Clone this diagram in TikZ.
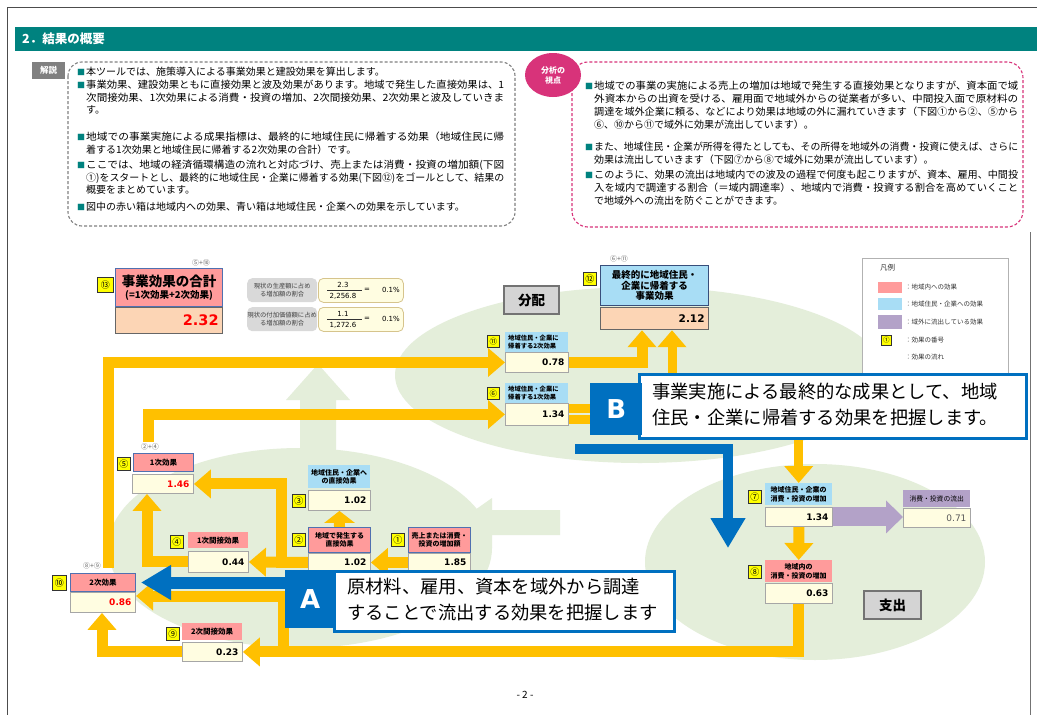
\documentclass[tikz,border=0pt]{standalone}
\usepackage{fontspec}
\setmainfont{Noto Sans CJK JP}
\newfontfamily\numfont{DejaVu Sans}
\usetikzlibrary{arrows.meta,calc,shapes.geometric}
\definecolor{teal1}{HTML}{00827F}
\definecolor{pinkbox}{HTML}{FF9B9B}
\definecolor{bluebox}{HTML}{A8DDF5}
\definecolor{purplebox}{HTML}{B3A2C8}
\definecolor{valfill}{HTML}{FFFDE1}
\definecolor{peach}{HTML}{FCD5B5}
\definecolor{yel}{HTML}{FFFF00}
\definecolor{orng}{HTML}{FFC000}
\definecolor{palegreen}{HTML}{E4EEDA}
\definecolor{bluec}{HTML}{0070C0}
\definecolor{mag}{HTML}{D8337A}
\definecolor{numred}{HTML}{FF0000}
\definecolor{bordergray}{HTML}{A6A6A6}
\definecolor{bordblue}{HTML}{5070B0}
\definecolor{tanb}{HTML}{D6C48C}
\definecolor{graylab}{HTML}{808080}
\pgfdeclarelayer{bg}
\pgfdeclarelayer{arr}
\pgfsetlayers{bg,arr,main}
\newcommand\bul{{\color{teal1}\fontsize{8}{8}\selectfont ■}\hspace{1pt}}
\newcommand\ind{\hspace*{9pt}}
\newcommand\jl[1]{\resizebox{418pt}{\height}{#1}}
\newcommand\jr[1]{\resizebox{424pt}{\height}{#1}}
\begin{document}
\begin{tikzpicture}[x=1pt,y=-1pt,
  box/.style={anchor=north west, inner sep=0pt, align=center},
  lab/.style 2 args={box, minimum width=#1, minimum height=#2, font=\bfseries\fontsize{7.5}{8.5}\selectfont},
  valb/.style 2 args={box, fill=valfill, draw=bordergray, line width=0.9pt, inner xsep=4pt, text width=#1, minimum height=#2, align=right, font=\numfont\bfseries\fontsize{9}{10}\selectfont},
  numb/.style={box, fill=yel, draw=black!80, line width=0.6pt, minimum width=13pt, minimum height=13pt, font=\fontsize{9}{9}\selectfont},
  para/.style={anchor=north west, inner sep=0pt, align=left, font=\fontsize{10}{12.5}\selectfont},
  parar/.style={anchor=north west, inner sep=0pt, align=left, font=\fontsize{10}{13}\selectfont},
  sumf/.style={inner sep=0pt, font=\fontsize{7}{8}\selectfont, text=black!60},
  flow/.style={draw=orng, line width=11pt, line join=miter, -{Triangle[width=28pt,length=17pt]}},
  pflow/.style={draw=purplebox, line width=19pt, -{Triangle[width=32pt,length=17pt]}},
  bflow/.style={draw=bluec, line width=10pt, -{Triangle[width=33pt,length=30pt]}},
  legt/.style={anchor=west, inner sep=0pt, font=\fontsize{6.5}{7}\selectfont, text=black!80},
  calltext/.style={anchor=west, inner sep=0pt, align=left, font=\fontsize{18.3}{26}\selectfont}
]
\useasboundingbox (0,0) rectangle (1037,715);
\begin{pgfonlayer}{bg}
\fill[white] (0,0) rectangle (1037,715);
\fill[palegreen] (640,375) ellipse [x radius=245pt, y radius=88pt];
\fill[palegreen] (300,548) ellipse [x radius=192pt, y radius=100pt];
\fill[palegreen] (815,562) ellipse [x radius=170pt, y radius=98pt];
\fill[palegreen] (458,522) -- (492,498) -- (492,510) -- (560,510) -- (560,535) -- (492,535) -- (492,548) -- cycle;
\fill[palegreen] (300,470) -- (300,400) -- (286,400) -- (318,364) -- (350,400) -- (336,400) -- (336,470) -- cycle;
\end{pgfonlayer}
\draw[black!70, line width=1pt] (7,715) -- (7,7) -- (1037,7);
\draw[black!55, line width=0.8pt] (1030,232) -- (1030,715);

% header
\fill[teal1] (15,27) rectangle (1037,51);
\node[anchor=west, text=white, font=\bfseries\fontsize{12.5}{14}\selectfont, inner sep=0] (title) at (22,39) {2．結果の概要};

% left explanation box
\draw[graylab, line width=1.1pt, dash pattern=on 3pt off 2pt, rounded corners=14pt] (68,62) rectangle (515,226);
\node[box, fill=graylab, text=white, minimum width=33pt, minimum height=17pt, font=\bfseries\fontsize{8.5}{9}\selectfont] (kaisetsu) at (32,62) {解説};
\node[para] (lp1) at (77,67) {\bul 本ツールでは、施策導入による事業効果と建設効果を算出します。};
\node[para] (lp2) at (77,80) {\bul\jl{事業効果、建設効果ともに直接効果と波及効果があります。地域で発生した直接効果は、1}\\\ind\jl{次間接効果、1次効果による消費・投資の増加、2次間接効果、2次効果と波及していきま}\\\ind す。};
\node[para] (lp3) at (77,132) {\bul\jl{地域での事業実施による成果指標は、最終的に地域住民に帰着する効果（地域住民に帰}\\\ind 着する1次効果と地域住民に帰着する2次効果の合計）です。};
\node[para] (lp4) at (77,160) {\bul\jl{ここでは、地域の経済循環構造の流れと対応づけ、売上または消費・投資の増加額(下図}\\\ind\jl{①)をスタートとし、最終的に地域住民・企業に帰着する効果(下図⑫)をゴールとして、結果の}\\\ind 概要をまとめています。};
\node[para] (lp5) at (77,202) {\bul 図中の赤い箱は地域内への効果、青い箱は地域住民・企業への効果を示しています。};

% right analysis box
\draw[mag, line width=1.1pt, dash pattern=on 3pt off 2pt, rounded corners=16pt] (572,62) rectangle (1023,227);
\node[ellipse, fill=mag, minimum width=56pt, minimum height=44pt, inner sep=0pt, text=white, align=center, font=\bfseries\fontsize{8}{10}\selectfont] (bunseki) at (553,75) {分析の\\視点};
\node[parar] (rp1) at (585,81) {\bul\jr{地域での事業の実施による売上の増加は地域で発生する直接効果となりますが、資本面で域}\\\ind\jr{外資本からの出資を受ける、雇用面で地域外からの従業者が多い、中間投入面で原材料の}\\\ind\jr{調達を域外企業に頼る、などにより効果は地域の外に漏れていきます（下図①から②、⑤から}\\\ind ⑥、⑩から⑪で域外に効果が流出しています）。};
\node[parar] (rp2) at (585,142) {\bul\jr{また、地域住民・企業が所得を得たとしても、その所得を地域外の消費・投資に使えば、さらに}\\\ind 効果は流出していきます（下図⑦から⑧で域外に効果が流出しています）。};
\node[parar] (rp3) at (585,170) {\bul\jr{このように、効果の流出は地域内での波及の過程で何度も起こりますが、資本、雇用、中間投}\\\ind\jr{入を域内で調達する割合（＝域内調達率）、地域内で消費・投資する割合を高めていくこと}\\\ind で地域外への流出を防ぐことができます。};

% node 13
\node[numb, minimum width=16pt, minimum height=15pt] (n13num) at (97,277) {⑬};
\node[box, fill=pinkbox, draw=bordblue, line width=1.2pt, minimum width=107pt, minimum height=38pt, font=\bfseries] (n13l) at (115,268) {{\fontsize{13.5}{15}\selectfont 事業効果の合計}\\{\fontsize{9.5}{11}\selectfont (=1次効果+2次効果)}};
\node[valb={99pt}{26pt}, fill=peach, draw=black!60, line width=1.2pt, font=\numfont\bfseries\fontsize{14.5}{16}\selectfont, text=numred] (n13v) at (115,307) {2.32};
\node[sumf] (n13f) at (201,263) {⑤+⑩};

% ratio boxes
\node[box, fill=black!15, rounded corners=5pt, minimum width=70pt, minimum height=24pt, font=\fontsize{6.3}{8}\selectfont, text=black!75] (r1l) at (247,278) {現状の生産額に占め\\る増加額の割合};
\node[box, fill=valfill, draw=tanb, line width=0.8pt, rounded corners=5pt, minimum width=85pt, minimum height=24pt] (r1v) at (318,278) {};
\node[inner sep=0pt, font=\numfont\fontsize{7}{8}\selectfont] (r1a) at (343,284.5) {2.3};
\node[inner sep=0pt, font=\numfont\fontsize{7}{8}\selectfont] (r1b) at (343,296) {2,256.8};
\draw[black!80, line width=0.5pt] (327,290) -- (362,290);
\node[inner sep=0pt, font=\numfont\fontsize{7}{8}\selectfont] (r1c) at (367,290) {=};
\node[anchor=east, inner sep=0pt, font=\numfont\fontsize{7}{8}\selectfont] (r1d) at (400,290) {0.1\%};
\node[box, fill=black!15, rounded corners=5pt, minimum width=70pt, minimum height=24pt, font=\fontsize{6.3}{8}\selectfont, text=black!75] (r2l) at (247,307) {現状の付加価値額に占め\\る増加額の割合};
\node[box, fill=valfill, draw=tanb, line width=0.8pt, rounded corners=5pt, minimum width=85pt, minimum height=24pt] (r2v) at (318,307) {};
\node[inner sep=0pt, font=\numfont\fontsize{7}{8}\selectfont] (r2a) at (343,313.5) {1.1};
\node[inner sep=0pt, font=\numfont\fontsize{7}{8}\selectfont] (r2b) at (343,325) {1,272.6};
\draw[black!80, line width=0.5pt] (327,319) -- (362,319);
\node[inner sep=0pt, font=\numfont\fontsize{7}{8}\selectfont] (r2c) at (367,319) {=};
\node[anchor=east, inner sep=0pt, font=\numfont\fontsize{7}{8}\selectfont] (r2d) at (400,319) {0.1\%};

% node 12
\node[numb] (n12num) at (583,272) {⑫};
\node[box, fill=bluebox, draw=bordblue!70!black, line width=1.2pt, minimum width=108pt, minimum height=40pt, font=\bfseries\fontsize{9.5}{10.5}\selectfont] (n12l) at (600,265) {最終的に地域住民・\\企業に帰着する\\事業効果};
\node[valb={100pt}{22pt}, fill=peach, draw=black!60, line width=1.2pt, font=\numfont\bfseries\fontsize{10.5}{12}\selectfont] (n12v) at (600,307) {2.12};
\node[sumf] (n12f) at (619,259) {⑥+⑪};

% distribution / expenditure labels
\node[box, fill=black!17, draw=black!55, line width=2pt, minimum width=55pt, minimum height=28pt, font=\bfseries\fontsize{13.5}{14}\selectfont] (haibun) at (503,285) {分配};
\node[box, fill=black!17, draw=black!55, line width=2pt, minimum width=57pt, minimum height=28pt, font=\bfseries\fontsize{13.5}{14}\selectfont] (shishutsu) at (863,590) {支出};

% node 11 and 6
\node[numb, minimum width=12pt, minimum height=12pt, font=\fontsize{7.5}{8}\selectfont] (n11num) at (487,335) {⑪};
\node[box, fill=bluebox, text width=57pt, inner xsep=3pt, minimum height=20pt, align=left, font=\bfseries\fontsize{6.3}{7.6}\selectfont] (n11l) at (505,332) {地域住民・企業に\\帰着する2次効果};
\node[valb={55pt}{20pt}] (n11v) at (505,352) {0.78};
\node[numb, minimum width=12pt, minimum height=12pt, font=\fontsize{7.5}{8}\selectfont] (n6num) at (487,387) {⑥};
\node[box, fill=bluebox, text width=57pt, inner xsep=3pt, minimum height=20pt, align=left, font=\bfseries\fontsize{6.3}{7.6}\selectfont] (n6l) at (505,383) {地域住民・企業に\\帰着する1次効果};
\node[valb={55pt}{22pt}] (n6v) at (505,403) {1.34};

% node 5
\node[numb] (n5num) at (117,457) {⑤};
\node[lab={60pt}{18pt}, fill=pinkbox, draw=bordblue, line width=1pt] (n5l) at (133,453) {1次効果};
\node[valb={53pt}{19pt}, text=numred] (n5v) at (132,474) {1.46};
\node[sumf] (n5f) at (150,447) {②+④};

% node 3
\node[lab={62pt}{23pt}, fill=bluebox, font=\bfseries\fontsize{7}{8.5}\selectfont] (n3l) at (308,465) {地域住民・企業へ\\の直接効果};
\node[valb={54pt}{20pt}] (n3v) at (308,490) {1.02};
\node[numb] (n3num) at (292,494) {③};

% node 2
\node[numb] (n2num) at (292,533) {②};
\node[lab={62pt}{25pt}, fill=pinkbox, draw=bordblue, line width=1pt, font=\bfseries\fontsize{7}{8.5}\selectfont] (n2l) at (308,527) {地域で発生する\\直接効果};
\node[valb={54pt}{18pt}] (n2v) at (308,553) {1.02};

% node 1
\node[numb] (n1num) at (391,533) {①};
\node[lab={62pt}{25pt}, fill=pinkbox, draw=bordblue, line width=1pt, font=\bfseries\fontsize{7}{8.5}\selectfont] (n1l) at (408,527) {売上または消費・\\投資の増加額};
\node[valb={54pt}{18pt}] (n1v) at (408,553) {1.85};

% node 4
\node[numb] (n4num) at (170,535) {④};
\node[lab={60pt}{16pt}, fill=pinkbox] (n4l) at (188,532) {1次間接効果};
\node[valb={52pt}{21pt}] (n4v) at (188,551) {0.44};

% node 7
\node[numb] (n7num) at (748,490) {⑦};
\node[lab={67pt}{22pt}, fill=bluebox, font=\bfseries\fontsize{7}{8.5}\selectfont] (n7l) at (765,483) {地域住民・企業の\\消費・投資の増加};
\node[valb={59pt}{19pt}] (n7v) at (765,507) {1.34};

% outflow
\node[lab={67pt}{17pt}, fill=purplebox, font=\fontsize{6.8}{8}\selectfont] (outl) at (903,490) {消費・投資の流出};
\node[valb={59pt}{19pt}, font=\numfont\fontsize{9}{10}\selectfont, text=black!65] (outv) at (903,508) {0.71};

% node 8
\node[numb] (n8num) at (748,565) {⑧};
\node[lab={67pt}{22pt}, fill=pinkbox, font=\bfseries\fontsize{7}{8.5}\selectfont] (n8l) at (765,560) {地域内の\\消費・投資の増加};
\node[valb={59pt}{20pt}] (n8v) at (765,583) {0.63};

% node 10
\node[numb, minimum width=14pt, minimum height=15pt] (n10num) at (52,575) {⑩};
\node[lab={65pt}{18pt}, fill=pinkbox, draw=bordblue, line width=1pt] (n10l) at (70,573) {2次効果};
\node[valb={57pt}{20pt}, text=numred] (n10v) at (70,592) {0.86};
\node[sumf] (n10f) at (92,566) {⑧+⑨};

% node 9
\node[numb] (n9num) at (166,627) {⑨};
\node[lab={60pt}{17pt}, fill=pinkbox] (n9l) at (182,623) {2次間接効果};
\node[valb={52pt}{19pt}] (n9v) at (182,642) {0.23};

% legend
\node[box, draw=black!30, fill=white, minimum width=146pt, minimum height=134pt] (legend) at (862,258) {};
\node[anchor=west, inner sep=0pt, font=\fontsize{7.5}{8}\selectfont, text=black!80] (legtitle) at (880,268) {凡例};
\node[box, fill=pinkbox, minimum width=24pt, minimum height=11pt] (lg1) at (878,282) {};
\node[legt] (lg1t) at (905,287.5) {：地域内への効果};
\node[box, fill=bluebox, minimum width=24pt, minimum height=12pt] (lg2) at (878,298) {};
\node[legt] (lg2t) at (905,304) {：地域住民・企業への効果};
\node[box, fill=purplebox, minimum width=24pt, minimum height=14pt] (lg3) at (878,315) {};
\node[legt] (lg3t) at (905,322) {：域外に流出している効果};
\node[numb, minimum width=10pt, minimum height=10pt, font=\fontsize{6.5}{7}\selectfont] (lg4) at (881,335) {①};
\node[legt] (lg4t) at (905,340) {：効果の番号};
\coordinate (lg5a) at (874,357);
\coordinate (lg5b) at (902,357);
\node[legt] (lg5t) at (905,357) {：効果の流れ};

% callout B
\node[box, fill=white, draw=bluec, line width=2.5pt, minimum width=387pt, minimum height=64pt] (bbox) at (638,373) {};
\node[box, fill=bluec, minimum width=52pt, minimum height=52pt, text=white, font=\numfont\bfseries\fontsize{26}{28}\selectfont] (blet) at (590,383) {B};
\node[calltext] (btext) at (652,405) {事業実施による最終的な成果として、地域\\住民・企業に帰着する効果を把握します。};
\coordinate (bst) at (575,449);
\coordinate (ben) at (728,548);

% callout A
\node[box, fill=white, draw=bluec, line width=2.5pt, minimum width=340pt, minimum height=60pt] (abox) at (333,570) {};
\node[box, fill=bluec, minimum width=50pt, minimum height=58pt, text=white, font=\numfont\bfseries\fontsize{26}{28}\selectfont] (alet) at (285,570) {A};
\node[calltext] (atext) at (347,600) {原材料、雇用、資本を域外から調達\\することで流出する効果を把握します};

% page number
\node[inner sep=0pt, font=\fontsize{10}{12}\selectfont] (page) at (525,695) {- 2 -};

% arrows
\begin{pgfonlayer}{arr}
\draw[flow] (n1v.west) -- (n2v.east);
\draw[flow, -{Triangle[width=30pt,length=12pt]}] (n2l.north) -- (n3v.south);
\draw[flow] (n2v.west) -- (n4v.east);
\draw[flow] (n2v.west) -- ++(-27,0) |- (n5v.east);
\draw[flow] (n4v.west) -| ($(n5v.south west)+(15,0)$);
\draw[flow] ($(n5l.north west)+(15,-11)$) |- (n6v.west);
\draw[flow] ($(n10l.north west)+(38,-5)$) |- (n11v.west);
\draw[flow] (n11v.east) -| ($(n12v.south west)+(42,0)$);
\draw[flow, line width=9pt] ([yshift=5.5pt]n6v.east) -| ($(n12v.south west)+(72,0)$);
\draw[flow, line width=9pt] ([yshift=-5.5pt]n6v.east) -| (n7l.north);
\draw[pflow] (n7v.east) -- (n7v.east -| outv.west);
\draw[flow] (n7v.south) -- (n8l.north);
\draw[flow] (n8v.south) |- (n9v.east);
\draw[flow] (n8v.south) |- ($(n9v.east)+(41,0)$) |- ($(n10l.south east)+(0,4)$);
\draw[flow] (n9v.west) -| ($(n10v.south west)+(32,0)$);
\draw[draw=orng, line width=4pt, -{Triangle[width=13pt,length=9pt]}] (lg5a) -- (lg5b);
\draw[bflow] (bst) -| (ben);
\draw[bflow, line width=12pt] (n10l.east -| alet.west) -- ($(n10l.east)+(5,0)$);
\end{pgfonlayer}
\end{tikzpicture}
\end{document}
